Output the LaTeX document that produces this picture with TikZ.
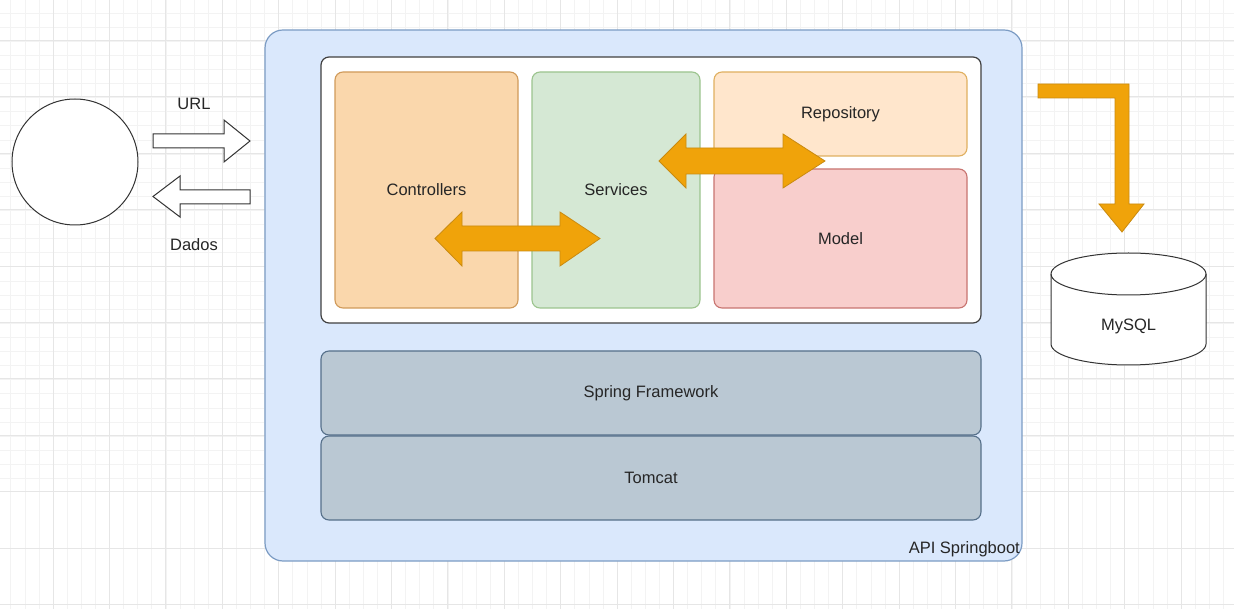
\documentclass[tikz,border=0pt]{standalone}
\usepackage{fontspec}
\setmainfont{Liberation Sans}
\definecolor{gridmaj}{HTML}{E6E6E6}
\definecolor{gridmin}{HTML}{F3F3F3}
\definecolor{apifill}{HTML}{DAE8FC}
\definecolor{apidraw}{HTML}{7C9CC4}
\definecolor{ctrlfill}{HTML}{FAD7AC}
\definecolor{ctrldraw}{HTML}{D09A5A}
\definecolor{servfill}{HTML}{D5E8D4}
\definecolor{servdraw}{HTML}{9CC48E}
\definecolor{repofill}{HTML}{FFE6CC}
\definecolor{repodraw}{HTML}{E0B060}
\definecolor{modfill}{HTML}{F8CECC}
\definecolor{moddraw}{HTML}{C87470}
\definecolor{sprfill}{HTML}{BAC8D3}
\definecolor{sprdraw}{HTML}{56708A}
\definecolor{orfill}{HTML}{F0A30A}
\definecolor{ordraw}{HTML}{C98A10}
\definecolor{txt}{HTML}{262626}
\tikzset{
  box/.style={draw, line width=1.1pt, rounded corners=8pt, inner sep=0pt,
    font=\fontsize{16.5}{18}\selectfont, text=txt},
  orarrow/.style={fill=orfill, draw=ordraw, line width=0.8pt, line join=miter},
  wharrow/.style={fill=white, draw=black!80, line width=1pt, line join=miter},
  lbl/.style={font=\fontsize{16.5}{18}\selectfont, text=txt, inner sep=0pt}
}
\begin{document}
\begin{tikzpicture}[x=1pt,y=-1pt]
\useasboundingbox (0,0) rectangle (1234,609);
\fill[white] (0,0) rectangle (1234,609);
% grid
\foreach \i in {-1,...,88} {
  \draw[gridmin, line width=0.6pt] ({-3.4+14.1*\i},0) -- ({-3.4+14.1*\i},609);
}
\foreach \i in {-3,...,42} {
  \draw[gridmin, line width=0.6pt] (0,{436-14.1*\i}) -- (1234,{436-14.1*\i});
}
\foreach \i in {0,...,22} {
  \draw[gridmaj, line width=0.9pt] ({-3.4+56.4*\i},0) -- ({-3.4+56.4*\i},609);
}
\foreach \i in {-3,...,10} {
  \draw[gridmaj, line width=0.9pt] (0,{548-56.4*\i}) -- (1234,{548-56.4*\i});
}
% user circle
\node[draw=black!80, fill=white, line width=1pt, circle, minimum size=126pt, inner sep=0pt] (user) at (75,162) {};
% URL arrow
\draw[wharrow] (153,134) -- (224,134) -- (224,120) -- (250,141) -- (224,162) -- (224,148) -- (153,148) -- cycle;
\node[lbl] (url) at (194,104) {URL};
% Dados arrow
\draw[wharrow] (250,190) -- (180,190) -- (180,176) -- (153,196.5) -- (180,217) -- (180,204) -- (250,204) -- cycle;
\node[lbl] (dados) at (194,245) {Dados};
% API box
\node[draw=apidraw, fill=apifill, line width=1.2pt, rounded corners=18pt, minimum width=757pt, minimum height=531pt, inner sep=0pt] (api) at (643.5,295.5) {};
\node[lbl, anchor=south east] (apilbl) at (1020,557) {API Springboot};
% inner white box
\node[draw=black!75, fill=white, line width=1.2pt, rounded corners=8pt, minimum width=660pt, minimum height=266pt, inner sep=0pt] (inner) at (651,190) {};
% layers
\node[box, draw=ctrldraw, fill=ctrlfill, minimum width=183pt, minimum height=236pt] (ctrl) at (426.5,190) {Controllers};
\node[box, draw=servdraw, fill=servfill, minimum width=168pt, minimum height=236pt] (serv) at (616,190) {Services};
\node[box, draw=repodraw, fill=repofill, minimum width=253pt, minimum height=84pt] (repo) at (840.5,114) {Repository};
\node[box, draw=moddraw, fill=modfill, minimum width=253pt, minimum height=139pt] (model) at (840.5,238.5) {Model};
\node[box, draw=sprdraw, fill=sprfill, minimum width=660pt, minimum height=84pt] (spring) at (651,393) {Spring Framework};
\node[box, draw=sprdraw, fill=sprfill, minimum width=660pt, minimum height=84pt] (tomcat) at (651,478) {Tomcat};
% orange double arrows
\draw[orarrow] (435,238.5) -- (462,212) -- (462,226) -- (560,226) -- (560,212) -- (600,238.5) -- (560,266) -- (560,251) -- (462,251) -- (462,266) -- cycle;
\draw[orarrow] (659,161) -- (686,134) -- (686,148) -- (783,148) -- (783,134) -- (825,161) -- (783,188) -- (783,174) -- (686,174) -- (686,188) -- cycle;
% L-shaped arrow to MySQL
\draw[orarrow] (1038,84) -- (1129,84) -- (1129,204) -- (1144,204) -- (1122,232) -- (1099,204) -- (1115,204) -- (1115,98) -- (1038,98) -- cycle;
% MySQL cylinder
\coordinate (cyltop) at (1128.5,274);
\coordinate (cylbot) at (1128.5,344);
\fill[white] (1051,274) -- (1051,344) arc[start angle=180, end angle=360, x radius=77.5pt, y radius=21pt] -- (1206,274) arc[start angle=0, end angle=180, x radius=77.5pt, y radius=21pt];
\draw[black!80, line width=1pt] (1051,274) -- (1051,344) arc[start angle=180, end angle=360, x radius=77.5pt, y radius=21pt] -- (1206,274);
\draw[black!80, line width=1pt] (cyltop) ellipse[x radius=77.5pt, y radius=21pt];
\node[lbl] (mysql) at (1128.5,326) {MySQL};
\end{tikzpicture}
\end{document}
